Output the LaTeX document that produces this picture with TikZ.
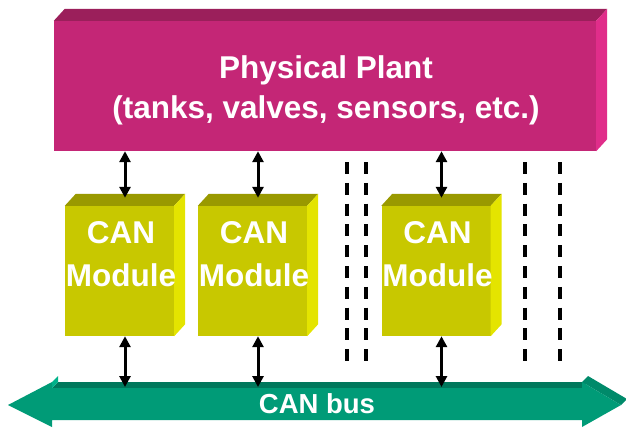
\documentclass[tikz,border=0pt]{standalone}
\usepackage{fontspec}
\setmainfont{Liberation Sans}
\usetikzlibrary{arrows.meta,calc}

\definecolor{plantfront}{RGB}{196,38,118}
\definecolor{planttop}{RGB}{155,31,91}
\definecolor{plantside}{RGB}{224,45,138}
\definecolor{modfront}{RGB}{200,200,0}
\definecolor{modtop}{RGB}{153,153,0}
\definecolor{modside}{RGB}{228,228,0}
\definecolor{busfront}{RGB}{0,155,119}
\definecolor{bustop}{RGB}{0,120,92}
\definecolor{busside}{RGB}{0,138,106}
\definecolor{buslight}{RGB}{0,178,138}

\tikzset{
  bigtext/.style={text=white, font=\fontsize{31.5}{36}\selectfont\bfseries, inner sep=0pt, anchor=base},
  bustext/.style={text=white, font=\fontsize{27.5}{32}\selectfont\bfseries, inner sep=0pt, anchor=base},
  plantbox/.style={fill=plantfront, draw=none, inner sep=0pt, minimum width=542pt, minimum height=130pt},
  modbox/.style={fill=modfront, draw=none, inner sep=0pt, minimum width=109pt, minimum height=130pt},
  biarrow/.style={line width=3pt, black,
    {Triangle[width=11pt,length=11pt]}-{Triangle[width=11pt,length=11pt]}},
  slotline/.style={line width=3.6pt, black, dash pattern=on 12pt off 8.8pt}
}

\begin{document}
\begin{tikzpicture}[x=1pt,y=-1pt]
\useasboundingbox (0,0) rectangle (626,429);

% ---- physical plant block (front face plus top and right faces)
\node[plantbox] (plant) at (325,86) {};
\fill[planttop] (plant.north west) -- ++(11,-12)
  -- ([shift={(11,-12)}]plant.north east) -- (plant.north east) -- cycle;
\fill[plantside] (plant.north east) -- ++(11,-12)
  -- ([shift={(11,-12)}]plant.south east) -- (plant.south east) -- cycle;
\node[bigtext] (plantl1) at (326,78) {Physical Plant};
\node[bigtext] (plantl2) at (326,118) {(tanks, valves, sensors, etc.)};

% ---- CAN modules
\foreach \n/\cx in {m1/119.5, m2/252.5, m3/436} {
  \node[modbox] (\n) at (\cx,271) {};
  \fill[modtop] (\n.north west) -- ++(11,-12)
    -- ([shift={(11,-12)}]\n.north east) -- (\n.north east) -- cycle;
  \fill[modside] (\n.north east) -- ++(11,-12)
    -- ([shift={(11,-12)}]\n.south east) -- (\n.south east) -- cycle;
  \node[bigtext] (\n can) at (\cx+1.5,243) {CAN};
  \node[bigtext] (\n mod) at (\cx+1.5,286.5) {Module};
  \coordinate (\n top) at ($(\n.north)+(5.5,-8)$);
  \coordinate (\n bot) at ($(\n.south)+(5.5,0)$);
}

% ---- slots for further modules
\foreach \x [count=\i] in {347,366,525,560} {
  \coordinate (s\i a) at (\x,162);
  \coordinate (s\i b) at (\x,362);
  \draw[slotline] (s\i a) -- (s\i b);
}

% ---- CAN bus (3D double arrow)
\fill[bustop] (52,388) -- (58,382) -- (588,382) -- (582,388) -- cycle;
\fill[buslight] (52,382) -- (58,376) -- (58,382) -- (52,388) -- cycle;
\fill[busside] (582,382) -- (588,376) -- (627,399) -- (621,405) -- cycle;
\fill[busfront] (8,405) -- (52,382) -- (52,388) -- (582,388) -- (582,382)
  -- (621,405) -- (582,427) -- (582,420) -- (52,420) -- (52,427) -- cycle;
\node[bustext] (bus) at (317,413.5) {CAN bus};
\coordinate (bustop) at (317,387);

% ---- connections plant <-> modules <-> bus
\foreach \n in {m1,m2,m3} {
  \draw[biarrow] (plant.south -| \n top) -- (\n top);
  \draw[biarrow] (\n bot) -- (\n bot |- bustop);
}
\end{tikzpicture}
\end{document}
